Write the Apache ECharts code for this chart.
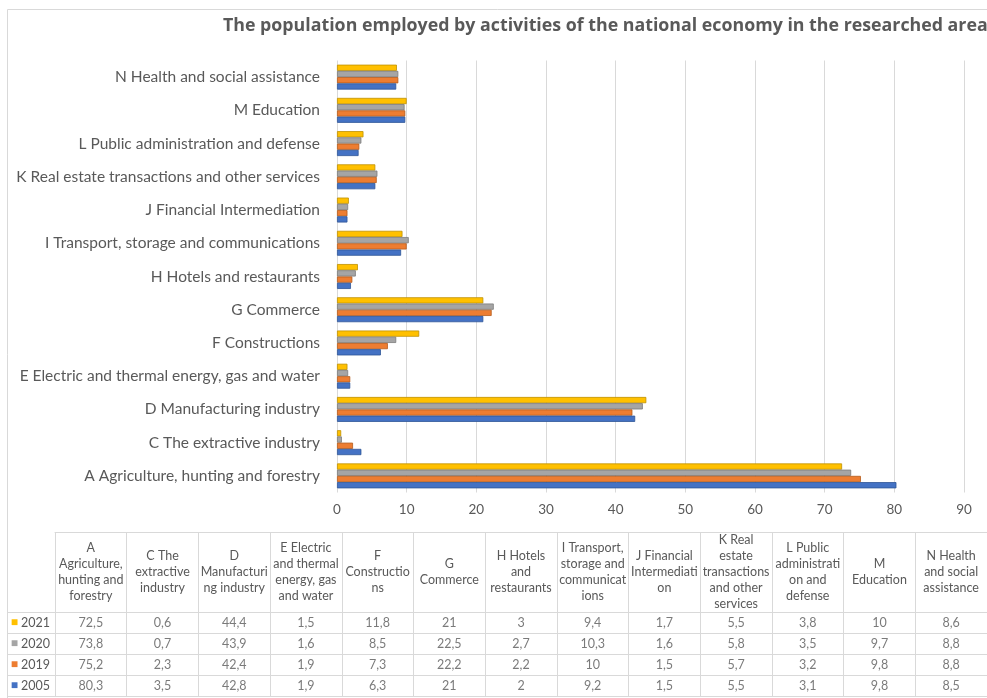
<!DOCTYPE html>
<html><head><meta charset="utf-8">
<script src="https://cdn.jsdelivr.net/npm/echarts@6/dist/echarts.min.js"></script>
<style>html,body{margin:0;padding:0;background:#fff}#c{width:987px;height:698px}</style>
</head><body><div id="c"></div>
<script>
const categories = [
  'A Agriculture, hunting and forestry',
  'C The extractive industry',
  'D Manufacturing industry',
  'E Electric and thermal energy, gas and water',
  'F Constructions',
  'G Commerce',
  'H Hotels and restaurants',
  'I Transport, storage and communications',
  'J Financial Intermediation',
  'K Real estate transactions and other services',
  'L Public administration and defense',
  'M Education',
  'N Health and social assistance'
];
const tableHeaders = [
  'A\nAgriculture,\nhunting and\nforestry',
  'C The\nextractive\nindustry',
  'D\nManufacturi\nng industry',
  'E Electric\nand thermal\nenergy, gas\nand water',
  'F\nConstructio\nns',
  'G\nCommerce',
  'H Hotels\nand\nrestaurants',
  'I Transport,\nstorage and\ncommunicat\nions',
  'J Financial\nIntermediati\non',
  'K Real\nestate\ntransactions\nand other\nservices',
  'L Public\nadministrati\non and\ndefense',
  'M\nEducation',
  'N Health\nand social\nassistance'
];
const years = ['2005', '2019', '2020', '2021'];
const v2005 = [80.3, 3.5, 42.8, 1.9, 6.3, 21, 2, 9.2, 1.5, 5.5, 3.1, 9.8, 8.5];
const v2019 = [75.2, 2.3, 42.4, 1.9, 7.3, 22.2, 2.2, 10, 1.5, 5.7, 3.2, 9.8, 8.8];
const v2020 = [73.8, 0.7, 43.9, 1.6, 8.5, 22.5, 2.7, 10.3, 1.6, 5.8, 3.5, 9.7, 8.8];
const v2021 = [72.5, 0.6, 44.4, 1.5, 11.8, 21, 3, 9.4, 1.7, 5.5, 3.8, 10, 8.6];
const xTicks = [0, 90, 10];

const seriesValues = [v2005, v2019, v2020, v2021];
const fills = ['#4472C4', '#ED7D31', '#A5A5A5', '#FFC000'];
const edges = ['#2F5597', '#B45A1A', '#7B7B7B', '#BF9000'];
const txt = '#595959';
const lineC = '#D9D9D9';

const rich = { t: { color: txt, fontSize: 12.5 } };
years.forEach((y, i) => { rich['s' + y] = { color: fills[i], fontSize: 12 }; });

const series = [];
// ECharts lays out horizontal bar groups top-down in series order, so add newest year first
[3, 2, 1, 0].forEach(k => {
  series.push({
    name: years[k], type: 'bar', xAxisIndex: 0, yAxisIndex: 0,
    data: seriesValues[k], barGap: '0%', barCategoryGap: '25%',
    itemStyle: { color: fills[k], borderColor: edges[k], borderWidth: 0.8 },
    silent: true
  });
});
years.forEach((y, k) => {
  series.push({
    name: 't' + y, type: 'scatter', xAxisIndex: 1, yAxisIndex: 1,
    symbolSize: 1, itemStyle: { color: 'rgba(0,0,0,0)' }, silent: true,
    data: seriesValues[k].map((v, i) => [i, k, v]),
    label: { show: true, position: 'inside', color: txt, fontSize: 12.5,
      formatter: p => String(p.value[2]).replace('.', ',') }
  });
});

const chart = echarts.init(document.getElementById('c'));
chart.setOption({
  animation: false,
  textStyle: { fontFamily: 'Lato' },
  title: { text: 'The population employed by activities of the national economy in the researched area',
    left: 218, top: 12, textStyle: { fontFamily: 'Open Sans', fontSize: 17.8, fontWeight: 'bold', color: txt } },
  graphic: [{ type: 'rect', shape: { x: 7.5, y: 9.5, width: 1000, height: 700 }, style: { fill: 'none', stroke: lineC, lineWidth: 1 }, silent: true }],
  grid: [
    { left: 337, width: 627, top: 60.5, height: 432 },
    { left: 55, width: 934, top: 612, height: 84 }
  ],
  xAxis: [
    { type: 'value', gridIndex: 0, min: xTicks[0], max: xTicks[1], interval: xTicks[2],
      axisLine: { show: false }, axisTick: { show: false },
      axisLabel: { color: txt, fontSize: 13.5, margin: 10 },
      splitLine: { show: true, lineStyle: { color: lineC } } },
    { type: 'category', gridIndex: 1, data: tableHeaders, position: 'top', boundaryGap: true,
      axisLine: { show: true, lineStyle: { color: lineC } },
      axisTick: { show: true, length: 80, interval: 0, lineStyle: { color: lineC } },
      axisLabel: { interval: 0, color: txt, fontSize: 12.5, lineHeight: 16, margin: 40, verticalAlign: 'middle' },
      splitLine: { show: true, interval: 0, lineStyle: { color: lineC } } },
    { type: 'category', gridIndex: 1, data: tableHeaders, position: 'top', offset: 80,
      axisLine: { show: true, lineStyle: { color: lineC } }, axisTick: { show: false }, axisLabel: { show: false } }
  ],
  yAxis: [
    { type: 'category', gridIndex: 0, data: categories,
      axisLine: { show: false }, axisTick: { show: false },
      axisLabel: { color: txt, fontSize: 15.5, margin: 17 } },
    { type: 'category', gridIndex: 1, data: years,
      axisLine: { show: true, lineStyle: { color: lineC } },
      axisTick: { show: true, length: 47, interval: 0, lineStyle: { color: lineC } },
      axisLabel: { margin: 5, formatter: (v) => '{s' + v + '|■} {t|' + v + '}', rich: rich },
      splitLine: { show: true, interval: 0, lineStyle: { color: lineC } } }
  ],
  series: series
});
</script></body></html>
